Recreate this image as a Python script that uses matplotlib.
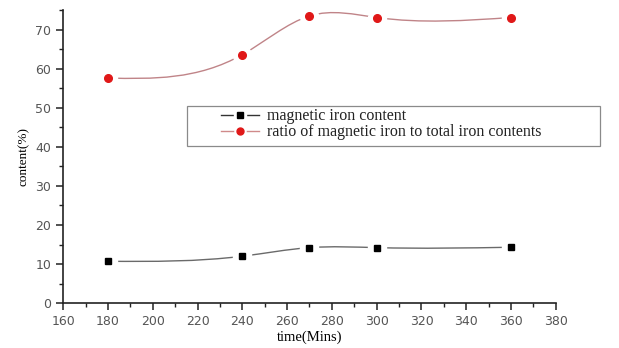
import matplotlib
matplotlib.use('Agg')
import matplotlib.pyplot as plt
from matplotlib.path import Path
from matplotlib.patches import PathPatch, Rectangle
from matplotlib.ticker import MultipleLocator
import numpy as np

time = [180, 240, 270, 300, 360]
magnetic_iron = [10.7, 12.0, 14.2, 14.2, 14.3]
ratio_magnetic = [57.6, 63.6, 73.5, 73.1, 73.1]


def spline_path(x, y):
    # natural cubic spline through the points, handed to matplotlib as bezier segments
    x = np.asarray(x, float)
    y = np.asarray(y, float)
    n = len(x)
    h = np.diff(x)
    A = np.zeros((n, n))
    b = np.zeros(n)
    A[0, 0] = A[-1, -1] = 1
    for i in range(1, n - 1):
        A[i, i - 1] = h[i - 1]
        A[i, i] = 2 * (h[i - 1] + h[i])
        A[i, i + 1] = h[i]
        b[i] = 6 * ((y[i + 1] - y[i]) / h[i] - (y[i] - y[i - 1]) / h[i - 1])
    M = np.linalg.solve(A, b)
    slope = np.zeros(n)
    for i in range(n - 1):
        slope[i] = (y[i + 1] - y[i]) / h[i] - h[i] * (2 * M[i] + M[i + 1]) / 6
    slope[-1] = (y[-1] - y[-2]) / h[-1] + h[-1] * (M[-2] + 2 * M[-1]) / 6
    verts = [(x[0], y[0])]
    codes = [Path.MOVETO]
    for i in range(n - 1):
        d = h[i] / 3
        verts += [(x[i] + d, y[i] + slope[i] * d),
                  (x[i + 1] - d, y[i + 1] - slope[i + 1] * d),
                  (x[i + 1], y[i + 1])]
        codes += [Path.CURVE4] * 3
    return Path(verts, codes)


black_line = '#6a6a6a'
red_line = '#c08488'
red_dot = '#e01818'

fig = plt.figure(figsize=(6.19, 3.48), dpi=100)
ax = fig.add_axes([0.102, 0.129, 0.796, 0.842])

ax.add_patch(PathPatch(spline_path(time, magnetic_iron), fill=False, ec=black_line, lw=1.0, zorder=2))
ax.add_patch(PathPatch(spline_path(time, ratio_magnetic), fill=False, ec=red_line, lw=1.0, zorder=2))

# white halo so the line breaks around each symbol
ax.plot(time, magnetic_iron, ls='none', marker='s', ms=13, color='white', zorder=3)
ax.plot(time, ratio_magnetic, ls='none', marker='o', ms=13, color='white', zorder=3)
ax.plot(time, magnetic_iron, ls='none', marker='s', ms=5, color='black', zorder=4)
ax.plot(time, ratio_magnetic, ls='none', marker='o', ms=5.5, color=red_dot, zorder=4)

# legend: frame drawn separately so the entries can sit inset like the original
fig.patches.append(Rectangle((0.302, 0.580), 0.667, 0.115, transform=fig.transFigure,
                             fill=True, fc='white', ec='#8a8a8a', lw=0.9, zorder=5))
l1, = ax.plot([], [], color='#333333', lw=1)
l2, = ax.plot([], [], color='#d08a8a', lw=1)
w1, = ax.plot([], [], ls='none', marker='s', ms=8, color='white')
w2, = ax.plot([], [], ls='none', marker='o', ms=8, color='white')
m1, = ax.plot([], [], ls='none', marker='s', ms=4.5, color='black')
m2, = ax.plot([], [], ls='none', marker='o', ms=5, color=red_dot)
leg = fig.legend([(l1, w1, m1), (l2, w2, m2)],
                 ['magnetic iron content', 'ratio of magnetic iron to total iron contents'],
                 loc='center left', bbox_to_anchor=(0.357, 0.643), frameon=False,
                 prop={'family': 'Liberation Serif', 'size': 11.5},
                 handlelength=2.4, handletextpad=0.45, borderpad=0, labelspacing=0.0,
                 borderaxespad=0)
leg.set_zorder(6)
for t in leg.get_texts():
    t.set_color('#222222')

ax.set_xlim(160, 380)
ax.set_ylim(0, 75)
ax.xaxis.set_major_locator(MultipleLocator(20))
ax.xaxis.set_minor_locator(MultipleLocator(10))
ax.yaxis.set_major_locator(MultipleLocator(10))
ax.yaxis.set_minor_locator(MultipleLocator(5))
ax.spines['top'].set_visible(False)
ax.spines['right'].set_visible(False)
for s in ['left', 'bottom']:
    ax.spines[s].set_linewidth(1.2)
    ax.spines[s].set_color('#222222')
ax.tick_params(which='major', length=5, width=1.1, labelsize=9, labelcolor='#555555', color='#222222')
ax.tick_params(which='minor', length=3, width=1.0, color='#222222')

ax.set_xlabel('time(Mins)', family='Liberation Serif', fontsize=10.5, labelpad=2)
ax.set_ylabel('content(%)', family='Liberation Serif', fontsize=9.5, labelpad=4)

fig.savefig('out.png', dpi=100)
